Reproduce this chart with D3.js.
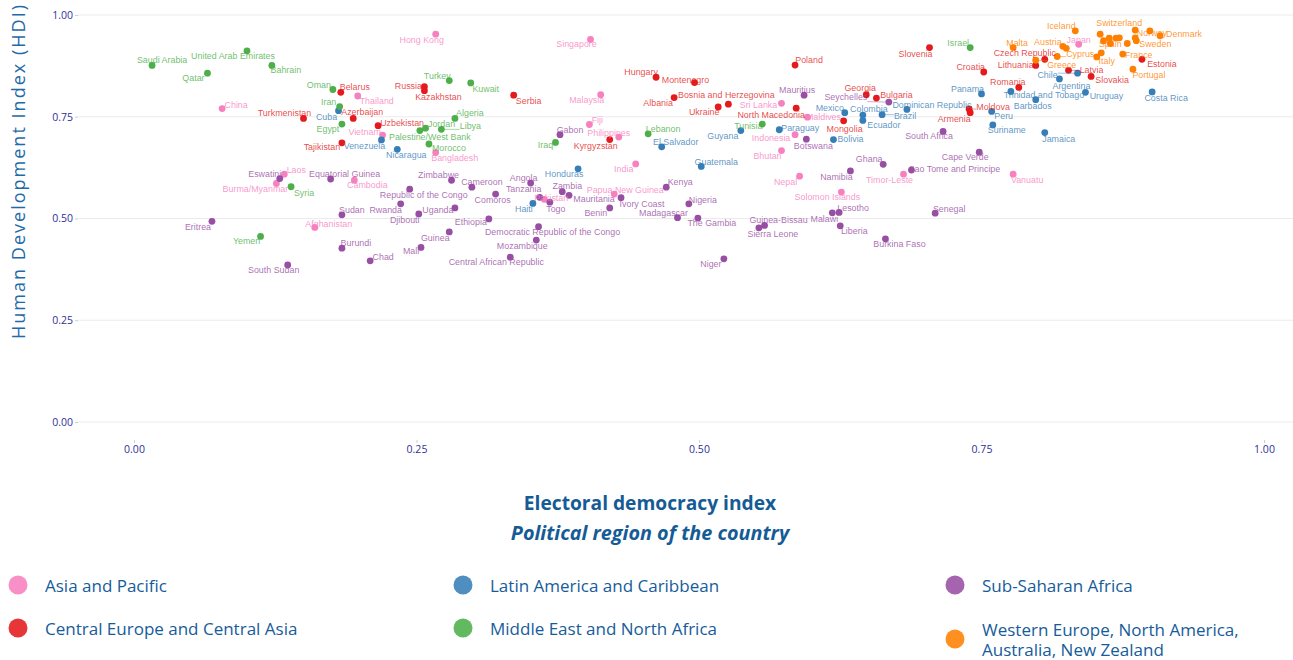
<!DOCTYPE html>
<html><head><meta charset="utf-8">
<script src="https://cdn.jsdelivr.net/npm/d3@7"></script>
<style>
html,body{margin:0;padding:0;background:#fff;}
svg{display:block;}
</style></head>
<body>
<svg id="chart" width="1293" height="660"></svg>
<script>
// ---------------- DATA ----------------
const regionNames = ["Asia and Pacific","Central Europe and Central Asia","Latin America and Caribbean","Middle East and North Africa","Sub-Saharan Africa","Western Europe, North America, Australia, New Zealand"];
const regionColors = ["#f781bf","#e41a1c","#377eb8","#4daf4a","#984ea3","#ff7f00"];

const asiaNames = ["Hong Kong","Singapore","Japan","Malaysia","Thailand","China","Sri Lanka","Maldives","Fiji","Vietnam","Philippines","Indonesia","Bhutan","Bangladesh","India","Nepal","Timor-Leste","Vanuatu","Laos","Cambodia","Burma/Myanmar","Papua New Guinea","Solomon Islands","Pakistan","Afghanistan"];
const asiaEDI = [0.267,0.404,0.836,0.413,0.198,0.078,0.573,0.596,0.403,0.220,0.429,0.585,0.573,0.267,0.444,0.589,0.681,0.778,0.133,0.195,0.126,0.425,0.626,0.363,0.160];
const asiaHDI = [0.953,0.940,0.928,0.804,0.801,0.770,0.783,0.749,0.731,0.705,0.700,0.706,0.667,0.662,0.634,0.604,0.609,0.609,0.609,0.594,0.586,0.560,0.565,0.547,0.478];

const ceNames = ["Slovenia","Poland","Czech Republic","Estonia","Lithuania","Croatia","Latvia","Slovakia","Hungary","Montenegro","Romania","Russia","Kazakhstan","Belarus","Georgia","Serbia","Bulgaria","Albania","Bosnia and Herzegovina","Ukraine","North Macedonia","Moldova","Armenia","Turkmenistan","Azerbaijan","Mongolia","Uzbekistan","Tajikistan","Kyrgyzstan"];
const ceEDI = [0.704,0.585,0.806,0.892,0.798,0.752,0.827,0.847,0.462,0.496,0.783,0.257,0.257,0.183,0.648,0.336,0.657,0.478,0.526,0.517,0.586,0.739,0.740,0.150,0.194,0.628,0.216,0.184,0.421];
const ceHDI = [0.920,0.877,0.891,0.891,0.876,0.860,0.864,0.849,0.847,0.834,0.822,0.824,0.814,0.810,0.804,0.803,0.796,0.797,0.781,0.774,0.771,0.769,0.760,0.746,0.746,0.740,0.728,0.686,0.694];

const laNames = ["Chile","Argentina","Costa Rica","Uruguay","Trinidad and Tobago","Panama","Barbados","Peru","Mexico","Colombia","Brazil","Ecuador","Dominican Republic","Cuba","Suriname","Jamaica","Paraguay","Guyana","Bolivia","Venezuela","El Salvador","Nicaragua","Guatemala","Honduras","Haiti"];
const laEDI = [0.835,0.819,0.901,0.842,0.776,0.750,0.798,0.759,0.629,0.645,0.662,0.645,0.684,0.181,0.760,0.806,0.571,0.537,0.619,0.219,0.467,0.233,0.502,0.393,0.353];
const laHDI = [0.857,0.843,0.811,0.810,0.812,0.806,0.792,0.763,0.760,0.754,0.755,0.741,0.768,0.765,0.730,0.711,0.718,0.716,0.694,0.693,0.676,0.670,0.628,0.622,0.537];

const meNames = ["Israel","United Arab Emirates","Saudi Arabia","Bahrain","Qatar","Turkey","Kuwait","Oman","Iran","Algeria","Egypt","Tunisia","Libya","Jordan","Palestine/West Bank","Lebanon","Iraq","Morocco","Syria","Yemen"];
const meEDI = [0.740,0.100,0.016,0.122,0.065,0.279,0.298,0.176,0.182,0.284,0.184,0.556,0.272,0.258,0.253,0.455,0.373,0.261,0.139,0.112];
const meHDI = [0.920,0.912,0.876,0.876,0.857,0.839,0.833,0.817,0.775,0.746,0.732,0.732,0.719,0.722,0.716,0.708,0.687,0.683,0.578,0.456];

const ssaNames = ["Mauritius","Seychelles","South Africa","Gabon","Botswana","Cape Verde","Ghana","Sao Tome and Principe","Namibia","Eswatini","Equatorial Guinea","Zimbabwe","Angola","Kenya","Cameroon","Republic of the Congo","Zambia","Comoros","Mauritania","Tanzania","Ivory Coast","Togo","Nigeria","Rwanda","Uganda","Benin","Sudan","Djibouti","Senegal","Lesotho","Malawi","Madagascar","The Gambia","Ethiopia","Eritrea","Guinea-Bissau","Sierra Leone","Liberia","Democratic Republic of the Congo","Guinea","Burkina Faso","Mozambique","Mali","Burundi","Central African Republic","Niger","Chad","South Sudan"];
const ssaEDI = [0.593,0.668,0.716,0.377,0.595,0.748,0.663,0.688,0.634,0.129,0.174,0.281,0.351,0.471,0.299,0.244,0.379,0.320,0.385,0.359,0.431,0.368,0.491,0.236,0.284,0.421,0.184,0.252,0.709,0.624,0.618,0.481,0.499,0.314,0.069,0.558,0.553,0.625,0.358,0.279,0.665,0.356,0.254,0.184,0.333,0.522,0.209,0.136];
const ssaHDI = [0.803,0.786,0.714,0.706,0.695,0.663,0.633,0.619,0.617,0.598,0.597,0.594,0.587,0.577,0.577,0.572,0.566,0.560,0.557,0.552,0.551,0.540,0.536,0.536,0.526,0.526,0.509,0.511,0.513,0.515,0.514,0.502,0.501,0.499,0.493,0.483,0.477,0.482,0.480,0.467,0.450,0.447,0.429,0.427,0.405,0.401,0.396,0.386];

const weNames = ["Iceland","Switzerland","Norway","Denmark","Sweden","Spain","Malta","Austria","Cyprus","Greece","Italy","France","Portugal","Germany","Netherlands","Australia","Ireland","Finland","New Zealand","Belgium","Luxembourg","United Kingdom"];
const weEDI = [0.833,0.886,0.899,0.908,0.887,0.864,0.778,0.822,0.817,0.798,0.852,0.875,0.884,0.825,0.855,0.858,0.863,0.869,0.872,0.879,0.886,0.856];
const weHDI = [0.961,0.963,0.961,0.949,0.937,0.930,0.920,0.923,0.898,0.889,0.897,0.904,0.867,0.918,0.953,0.937,0.943,0.943,0.944,0.930,0.944,0.907];

// countries whose labels are dropped in the original (overlaps)
const unlabeled = ["Germany","Netherlands","Australia","Ireland","Finland","New Zealand","Belgium","Luxembourg","United Kingdom"];

const xTicks = [0, 0.25, 0.5, 0.75, 1];
const yTicks = [0, 0.25, 0.5, 0.75, 1];

// label placement (repelled label centre, offset from point in px)
const labelOffset = {
"Hong Kong":[-14,6],"Singapore":[-14,5],"Japan":[0,-4],"Malaysia":[-14,5],"Thailand":[19,5],"China":[14,-4],"Sri Lanka":[-23,2],"Maldives":[16,0],"Fiji":[8,-4],"Vietnam":[-18,-3],"Philippines":[-10,-4],"Indonesia":[-24,3],"Bhutan":[-14,5],"Bangladesh":[19,5],"India":[-12,5],"Nepal":[-14,6],"Timor-Leste":[-14,6],"Vanuatu":[14,6],"Laos":[12,-4],"Cambodia":[13,5],"Burma/Myanmar":[-21,6],"Papua New Guinea":[11,-4],"Solomon Islands":[-14,5],"Pakistan":[7,-1],"Afghanistan":[14,-3],
"Slovenia":[-14,6],"Poland":[14,-5],"Czech Republic":[-20,-6],"Estonia":[20,5],"Lithuania":[-20,0],"Croatia":[-13,-5],"Latvia":[23,0],"Slovakia":[21,4],"Hungary":[-15,-5],"Montenegro":[-9,-3],"Romania":[-11,-5],"Russia":[-16,-1],"Kazakhstan":[14,6],"Belarus":[14,-5],"Georgia":[-6,-7],"Serbia":[15,6],"Bulgaria":[20,-3],"Albania":[-16,5],"Bosnia and Herzegovina":[-2,-9],"Ukraine":[-14,5],"North Macedonia":[-25,7],"Moldova":[24,-2],"Armenia":[-16,6],"Turkmenistan":[-19,-5],"Azerbaijan":[9,-6],"Mongolia":[1,8],"Uzbekistan":[24,-3],"Tajikistan":[-20,4],"Kyrgyzstan":[-14,6],
"Chile":[-30,2],"Argentina":[12,7],"Costa Rica":[14,6],"Uruguay":[21,4],"Trinidad and Tobago":[33,3],"Panama":[-14,-5],"Barbados":[-3,6],"Peru":[12,5],"Mexico":[-15,-5],"Colombia":[6,-6],"Brazil":[23,1],"Ecuador":[21,5],"Dominican Republic":[25,-4],"Cuba":[-12,6],"Suriname":[14,5],"Jamaica":[14,6],"Paraguay":[21,-2],"Guyana":[-18,5],"Bolivia":[17,-1],"Venezuela":[-17,6],"El Salvador":[14,-5],"Nicaragua":[9,6],"Guatemala":[15,-4],"Honduras":[-14,5],"Haiti":[-9,6],
"Israel":[-12,-5],"United Arab Emirates":[-14,5],"Saudi Arabia":[10,-5],"Bahrain":[14,5],"Qatar":[-14,5],"Turkey":[-12,-5],"Kuwait":[15,6],"Oman":[-14,-4],"Iran":[-11,-5],"Algeria":[15,-5],"Egypt":[-14,5],"Tunisia":[-14,2],"Libya":[29,-3],"Jordan":[16,-4],"Palestine/West Bank":[10,6],"Lebanon":[15,-5],"Iraq":[-10,3],"Morocco":[20,4],"Syria":[13,6],"Yemen":[-14,5],
"Mauritius":[-7,-5],"Seychelles":[-43,-5],"South Africa":[-14,5],"Gabon":[10,-5],"Botswana":[7,7],"Cape Verde":[-14,5],"Ghana":[-14,-5],"Sao Tome and Principe":[43,-1],"Namibia":[-14,6],"Eswatini":[-15,-5],"Equatorial Guinea":[14,-5],"Zimbabwe":[-13,-5],"Angola":[-7,-5],"Kenya":[14,-5],"Cameroon":[10,-5],"Republic of the Congo":[14,6],"Zambia":[5,-6],"Comoros":[-3,6],"Mauritania":[25,4],"Tanzania":[-16,-8],"Ivory Coast":[21,6],"Togo":[6,7],"Nigeria":[14,-4],"Rwanda":[-15,6],"Uganda":[-17,2],"Benin":[-14,5],"Sudan":[10,-5],"Djibouti":[-14,6],"Senegal":[14,-4],"Lesotho":[14,-4],"Malawi":[-8,6],"Madagascar":[-14,-5],"The Gambia":[14,5],"Ethiopia":[-18,3],"Eritrea":[-14,6],"Guinea-Bissau":[14,-5],"Sierra Leone":[14,6],"Liberia":[14,5],"Democratic Republic of the Congo":[14,5],"Guinea":[-14,6],"Burkina Faso":[14,5],"Mozambique":[-14,6],"Mali":[-10,4],"Burundi":[14,-5],"Central African Republic":[-14,5],"Niger":[-13,5],"Chad":[13,-4],"South Sudan":[-14,5],
"Iceland":[-14,-5],"Switzerland":[-16,-7],"Norway":[2,2],"Denmark":[24,-2],"Sweden":[19,3],"Spain":[0,1],"Malta":[4,-5],"Austria":[-15,-4],"Cyprus":[23,-3],"Greece":[26,5],"Italy":[10,4],"France":[16,1],"Portugal":[16,6]
};

// ---------------- BUILD ----------------
const groups = [
  [asiaNames, asiaEDI, asiaHDI],
  [ceNames, ceEDI, ceHDI],
  [laNames, laEDI, laHDI],
  [meNames, meEDI, meHDI],
  [ssaNames, ssaEDI, ssaHDI],
  [weNames, weEDI, weHDI]
];
const points = [];
groups.forEach((g, ri) => g[0].forEach((n, i) => points.push({name: n, edi: g[1][i], hdi: g[2][i], region: ri})));

const svg = d3.select("#chart");
const W = 1293, H = 660;
const x = d3.scaleLinear().domain([0, 1]).range([134, 1264]);
const y = d3.scaleLinear().domain([0, 1]).range([422, 15]);
const color = d3.scaleOrdinal().domain(d3.range(6)).range(regionColors);

const panelLeft = 78, panelRight = W;

// gridlines
svg.append("g").selectAll("line").data(yTicks).join("line")
  .attr("x1", panelLeft).attr("x2", panelRight)
  .attr("y1", d => y(d)).attr("y2", d => y(d))
  .attr("stroke", "#ebebeb").attr("stroke-width", 1);

// y axis
const yAxis = svg.append("g").attr("transform", `translate(${panelLeft},0)`)
  .call(d3.axisLeft(y).tickValues(yTicks).tickFormat(d3.format(".2f")).tickSize(3).tickPadding(2));
yAxis.select(".domain").remove();
yAxis.selectAll(".tick line").attr("stroke", "#cfcfcf");
yAxis.selectAll("text").attr("fill", "#30309a").style("font-family", "'Open Sans', sans-serif").style("font-size", "10.5px");

// x axis
const xAxis = svg.append("g").attr("transform", `translate(0,440)`)
  .call(d3.axisBottom(x).tickValues(xTicks).tickFormat(d3.format(".2f")).tickSize(3).tickPadding(3));
xAxis.select(".domain").remove();
xAxis.selectAll(".tick line").attr("stroke", "#cfcfcf");
xAxis.selectAll("text").attr("fill", "#30309a").style("font-family", "'Open Sans', sans-serif").style("font-size", "10.5px");

// points
svg.append("g").selectAll("circle").data(points).join("circle")
  .attr("cx", d => x(d.edi)).attr("cy", d => y(d.hdi)).attr("r", 3.4)
  .attr("fill", d => color(d.region));

// labels (with segments when far from point)
const lblG = svg.append("g").style("font-family", "'Liberation Sans', Arial, sans-serif").style("font-size", "8.9px");
const segG = lblG.append("g");
points.filter(d => !unlabeled.includes(d.name)).forEach(d => {
  const off = labelOffset[d.name] || [12, -5];
  const px = x(d.edi), py = y(d.hdi);
  const cx = px + off[0], cy = py + off[1];
  const t = lblG.append("text").attr("x", cx).attr("y", cy)
    .attr("text-anchor", "middle").attr("dominant-baseline", "central")
    .attr("fill", color(d.region)).attr("fill-opacity", 0.82).text(d.name);
  const w = t.node().getComputedTextLength(), h = 9;
  const bx = Math.max(cx - w / 2, Math.min(px, cx + w / 2));
  const by = Math.max(cy - h / 2, Math.min(py, cy + h / 2));
  const dist = Math.hypot(bx - px, by - py);
  if (dist > 7) {
    segG.append("line").attr("x1", px).attr("y1", py).attr("x2", bx).attr("y2", by)
      .attr("stroke", color(d.region)).attr("stroke-opacity", 0.8).attr("stroke-width", 0.6);
  }
});

// axis titles
svg.append("text").attr("transform", "translate(25,172) rotate(-90)")
  .attr("text-anchor", "middle").attr("fill", "#1f6aa8")
  .attr("textLength", 334).attr("lengthAdjust", "spacing")
  .style("font-family", "'Open Sans', sans-serif").style("font-size", "18px")
  .text("Human Development Index (HDI)");
svg.append("text").attr("x", 650).attr("y", 510).attr("text-anchor", "middle")
  .attr("fill", "#155b96").style("font-family", "'Open Sans', sans-serif").style("font-size", "19.2px").style("font-weight", "700")
  .text("Electoral democracy index");
svg.append("text").attr("x", 650).attr("y", 540).attr("text-anchor", "middle")
  .attr("fill", "#155b96").style("font-family", "'Open Sans', sans-serif").style("font-size", "19.8px").style("font-weight", "700").style("font-style", "italic")
  .text("Political region of the country");

// legend
const legendPos = [[18,585],[463,585],[955,585],[18,628],[463,628],[955,639]];
const legendOrder = [0,2,4,1,3,5];
const lg = svg.append("g").style("font-family", "'Open Sans', sans-serif").style("font-size", "17px");
legendOrder.forEach((ri, k) => {
  const [lx, ly] = legendPos[k];
  lg.append("circle").attr("cx", lx).attr("cy", ly).attr("r", 9.5).attr("fill", color(ri)).attr("fill-opacity", 0.88);
  const txt = lg.append("text").attr("x", lx + 27).attr("fill", "#165c9a");
  if (ri === 5) {
    txt.append("tspan").attr("x", lx + 27).attr("y", ly - 10).attr("dominant-baseline", "central").text("Western Europe, North America,");
    txt.append("tspan").attr("x", lx + 27).attr("y", ly + 10.5).attr("dominant-baseline", "central").text("Australia, New Zealand");
  } else {
    txt.attr("y", ly).attr("dominant-baseline", "central").text(regionNames[ri]);
  }
});
</script>
</body></html>
